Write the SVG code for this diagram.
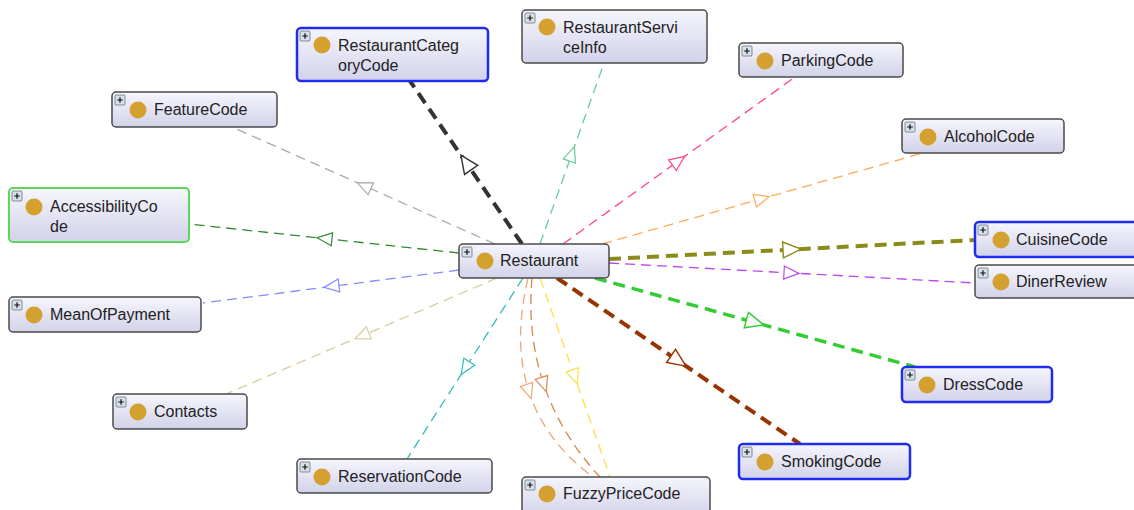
<svg xmlns="http://www.w3.org/2000/svg" width="1134" height="510" viewBox="0 0 1134 510">
  <style>
    .box { fill: url(#nodeFill); stroke: #4a4a4a; stroke-width: 1.5; }
    .box.sel { stroke: #1f2cf0; stroke-width: 2.5; }
    .box.hl { stroke: #5ad85a; stroke-width: 2; }
    .dot { fill: #d4a030; }
    .lbl { font-family: "Liberation Sans", Arial, sans-serif; font-size: 16px; fill: #222; }
    .plus rect { fill: #d8e0ea; stroke: #6a7480; stroke-width: 0.8; }
    .plus path { stroke: #111; stroke-width: 1.2; }
    .e { fill: none; stroke-width: 1.3; stroke-dasharray: 10 6; }
    .e.thick { stroke-width: 4; stroke-dasharray: 12 7; }
    .e.mid { stroke-width: 3.5; stroke-dasharray: 12 7; }
  </style>
  <defs>
    <linearGradient id="nodeFill" x1="0" y1="0" x2="0" y2="1">
      <stop offset="0" stop-color="#f6f6fd"/>
      <stop offset="1" stop-color="#d2d2ea"/>
    </linearGradient>
    <marker id="aBlack" viewBox="-22 -11 24 22" markerWidth="24" markerHeight="22" refX="-9" refY="0" orient="auto" markerUnits="userSpaceOnUse"><path d="M-18,-8 L0,0 L-18,8 Z" fill="#fff" stroke="#333" stroke-width="1.4"/></marker>
    <marker id="aOlive" viewBox="-22 -11 24 22" markerWidth="24" markerHeight="22" refX="-9" refY="0" orient="auto" markerUnits="userSpaceOnUse"><path d="M-18,-8 L0,0 L-18,8 Z" fill="#fff" stroke="#8b8b1a" stroke-width="1.4"/></marker>
    <marker id="aGreen" viewBox="-22 -11 24 22" markerWidth="24" markerHeight="22" refX="-9" refY="0" orient="auto" markerUnits="userSpaceOnUse"><path d="M-18,-8 L0,0 L-18,8 Z" fill="#fff" stroke="#33cc33" stroke-width="1.4"/></marker>
    <marker id="aBrown" viewBox="-22 -11 24 22" markerWidth="24" markerHeight="22" refX="-9" refY="0" orient="auto" markerUnits="userSpaceOnUse"><path d="M-18,-8 L0,0 L-18,8 Z" fill="#fff" stroke="#993300" stroke-width="1.4"/></marker>
    <marker id="aMint" viewBox="-17 -9 19 18" markerWidth="19" markerHeight="18" refX="-7" refY="0" orient="auto" markerUnits="userSpaceOnUse"><path d="M-15,-6.5 L0,0 L-15,6.5 Z" fill="#fff" stroke="#66cc99" stroke-width="1.2"/></marker>
    <marker id="aPink" viewBox="-17 -9 19 18" markerWidth="19" markerHeight="18" refX="-7" refY="0" orient="auto" markerUnits="userSpaceOnUse"><path d="M-15,-6.5 L0,0 L-15,6.5 Z" fill="#fff" stroke="#ff4488" stroke-width="1.2"/></marker>
    <marker id="aOrange" viewBox="-17 -9 19 18" markerWidth="19" markerHeight="18" refX="-7" refY="0" orient="auto" markerUnits="userSpaceOnUse"><path d="M-15,-6.5 L0,0 L-15,6.5 Z" fill="#fff" stroke="#ffaa55" stroke-width="1.2"/></marker>
    <marker id="aPurple" viewBox="-17 -9 19 18" markerWidth="19" markerHeight="18" refX="-7" refY="0" orient="auto" markerUnits="userSpaceOnUse"><path d="M-15,-6.5 L0,0 L-15,6.5 Z" fill="#fff" stroke="#bb44ee" stroke-width="1.2"/></marker>
    <marker id="aYellow" viewBox="-17 -9 19 18" markerWidth="19" markerHeight="18" refX="-7" refY="0" orient="auto" markerUnits="userSpaceOnUse"><path d="M-15,-6.5 L0,0 L-15,6.5 Z" fill="#fff" stroke="#ffdd44" stroke-width="1.2"/></marker>
    <marker id="aPeach" viewBox="-17 -9 19 18" markerWidth="19" markerHeight="18" refX="-7" refY="0" orient="auto" markerUnits="userSpaceOnUse"><path d="M-15,-6.5 L0,0 L-15,6.5 Z" fill="#fff" stroke="#eaa878" stroke-width="1.2"/></marker>
    <marker id="aRust" viewBox="-17 -9 19 18" markerWidth="19" markerHeight="18" refX="-7" refY="0" orient="auto" markerUnits="userSpaceOnUse"><path d="M-15,-6.5 L0,0 L-15,6.5 Z" fill="#fff" stroke="#d98650" stroke-width="1.2"/></marker>
    <marker id="aTeal" viewBox="-17 -9 19 18" markerWidth="19" markerHeight="18" refX="-7" refY="0" orient="auto" markerUnits="userSpaceOnUse"><path d="M-15,-6.5 L0,0 L-15,6.5 Z" fill="#fff" stroke="#33bbbb" stroke-width="1.2"/></marker>
    <marker id="aKhaki" viewBox="-17 -9 19 18" markerWidth="19" markerHeight="18" refX="-7" refY="0" orient="auto" markerUnits="userSpaceOnUse"><path d="M-15,-6.5 L0,0 L-15,6.5 Z" fill="#fff" stroke="#d6cd9c" stroke-width="1.2"/></marker>
    <marker id="aBlue" viewBox="-17 -9 19 18" markerWidth="19" markerHeight="18" refX="-7" refY="0" orient="auto" markerUnits="userSpaceOnUse"><path d="M-15,-6.5 L0,0 L-15,6.5 Z" fill="#fff" stroke="#8888ff" stroke-width="1.2"/></marker>
    <marker id="aDkGreen" viewBox="-17 -9 19 18" markerWidth="19" markerHeight="18" refX="-7" refY="0" orient="auto" markerUnits="userSpaceOnUse"><path d="M-15,-6.5 L0,0 L-15,6.5 Z" fill="#fff" stroke="#338833" stroke-width="1.2"/></marker>
    <marker id="aGray" viewBox="-17 -9 19 18" markerWidth="19" markerHeight="18" refX="-7" refY="0" orient="auto" markerUnits="userSpaceOnUse"><path d="M-15,-6.5 L0,0 L-15,6.5 Z" fill="#fff" stroke="#aaaaaa" stroke-width="1.2"/></marker>
    <g id="plusIcon" class="plus">
      <rect x="0" y="0" width="10" height="10" rx="1"/>
      <path d="M2.2,5 H7.8 M5,2.2 V7.8"/>
    </g>
  </defs>
  <rect width="1134" height="510" fill="#ffffff"/>

  <!-- connectors: Restaurant to each related class -->
  <g id="connectors">
    <path class="e" d="M495,244 L363.5,185.5 L232,127" stroke="#aaaaaa" marker-mid="url(#aGray)"/>
    <path class="e" d="M459,253 L324,238.5 L189,224" stroke="#338833" marker-mid="url(#aDkGreen)"/>
    <path class="e" d="M459,270 L331,286.5 L203,303" stroke="#8888ff" marker-mid="url(#aBlue)"/>
    <path class="e" d="M497,278 L361.5,336 L226,394" stroke="#d6cd9c" marker-mid="url(#aKhaki)"/>
    <path class="e" d="M523,278 L465,368.5 L407,459" stroke="#33bbbb" marker-mid="url(#aTeal)"/>
    <path class="e" d="M528,278 Q512.75,342.25 529,392 Q545.25,441.75 593,477" stroke="#eaa878" marker-mid="url(#aPeach)"/>
    <path class="e" d="M532,278 Q527,335.25 544,385 Q561,434.75 600,477" stroke="#d98650" marker-mid="url(#aRust)"/>
    <path class="e" d="M540,278 L575,377.5 L610,477" stroke="#ffdd44" marker-mid="url(#aYellow)"/>
    <path class="e" d="M540,244 L572,153.5 L604,63" stroke="#66cc99" marker-mid="url(#aMint)"/>
    <path class="e" d="M563,244 L679,160.5 L795,77" stroke="#ff4488" marker-mid="url(#aPink)"/>
    <path class="e" d="M602,244 L762.5,198.5 L923,153" stroke="#ffaa55" marker-mid="url(#aOrange)"/>
    <path class="e" d="M609,263 L792,273 L975,283" stroke="#bb44ee" marker-mid="url(#aPurple)"/>
    <path class="e thick" d="M522,244 L466,162.5 L410,81" stroke="#333333" marker-mid="url(#aBlack)"/>
    <path class="e thick" d="M609,259 L792,249.5 L975,240" stroke="#8b8b1a" marker-mid="url(#aOlive)"/>
    <path class="e mid" d="M595,278 L755,322.5 L915,367" stroke="#33cc33" marker-mid="url(#aGreen)"/>
    <path class="e thick" d="M557,278 L678.5,361 L800,444" stroke="#993300" marker-mid="url(#aBrown)"/>
  </g>

  <g id="RestaurantCategoryCode">
    <rect class="box sel" x="297" y="28" width="191" height="53" rx="4"/>
    <use href="#plusIcon" x="300" y="31"/>
    <circle class="dot" cx="322" cy="45" r="8.5"/>
    <text class="lbl" x="338" y="51">RestaurantCateg</text>
    <text class="lbl" x="338" y="71">oryCode</text>
  </g>
  <g id="RestaurantServiceInfo">
    <rect class="box" x="522" y="10" width="185" height="53" rx="4"/>
    <use href="#plusIcon" x="525" y="13"/>
    <circle class="dot" cx="547" cy="27" r="8.5"/>
    <text class="lbl" x="563" y="33">RestaurantServi</text>
    <text class="lbl" x="563" y="53">ceInfo</text>
  </g>
  <g id="ParkingCode">
    <rect class="box" x="739" y="43" width="164" height="34" rx="4"/>
    <use href="#plusIcon" x="742" y="46"/>
    <circle class="dot" cx="765" cy="61" r="8.5"/>
    <text class="lbl" x="781" y="66">ParkingCode</text>
  </g>
  <g id="FeatureCode">
    <rect class="box" x="112" y="92" width="165" height="35" rx="4"/>
    <use href="#plusIcon" x="115" y="95"/>
    <circle class="dot" cx="138" cy="110" r="8.5"/>
    <text class="lbl" x="154" y="115">FeatureCode</text>
  </g>
  <g id="AlcoholCode">
    <rect class="box" x="902" y="119" width="162" height="34" rx="4"/>
    <use href="#plusIcon" x="905" y="122"/>
    <circle class="dot" cx="928" cy="137" r="8.5"/>
    <text class="lbl" x="944" y="142">AlcoholCode</text>
  </g>
  <g id="AccessibilityCode">
    <rect class="box hl" x="9" y="188" width="180" height="54" rx="4"/>
    <use href="#plusIcon" x="12" y="191"/>
    <circle class="dot" cx="34" cy="207" r="8.5"/>
    <text class="lbl" x="50" y="212">AccessibilityCo</text>
    <text class="lbl" x="50" y="232">de</text>
  </g>
  <g id="Restaurant">
    <rect class="box" x="459" y="244" width="150" height="34" rx="4"/>
    <use href="#plusIcon" x="462" y="247"/>
    <circle class="dot" cx="485" cy="261" r="8.5"/>
    <text class="lbl" x="500" y="266">Restaurant</text>
  </g>
  <g id="CuisineCode">
    <rect class="box sel" x="975" y="222" width="170" height="35" rx="4"/>
    <use href="#plusIcon" x="978" y="225"/>
    <circle class="dot" cx="1001" cy="240" r="8.5"/>
    <text class="lbl" x="1016" y="245">CuisineCode</text>
  </g>
  <g id="DinerReview">
    <rect class="box" x="975" y="265" width="170" height="33" rx="4"/>
    <use href="#plusIcon" x="978" y="268"/>
    <circle class="dot" cx="1001" cy="282" r="8.5"/>
    <text class="lbl" x="1016" y="287">DinerReview</text>
  </g>
  <g id="MeanOfPayment">
    <rect class="box" x="9" y="297" width="192" height="35" rx="4"/>
    <use href="#plusIcon" x="12" y="300"/>
    <circle class="dot" cx="34" cy="315" r="8.5"/>
    <text class="lbl" x="50" y="320">MeanOfPayment</text>
  </g>
  <g id="DressCode">
    <rect class="box sel" x="902" y="367" width="150" height="35" rx="4"/>
    <use href="#plusIcon" x="905" y="370"/>
    <circle class="dot" cx="927" cy="385" r="8.5"/>
    <text class="lbl" x="943" y="390">DressCode</text>
  </g>
  <g id="Contacts">
    <rect class="box" x="113" y="394" width="134" height="35" rx="4"/>
    <use href="#plusIcon" x="116" y="397"/>
    <circle class="dot" cx="138" cy="412" r="8.5"/>
    <text class="lbl" x="154" y="417">Contacts</text>
  </g>
  <g id="SmokingCode">
    <rect class="box sel" x="739" y="444" width="171" height="35" rx="4"/>
    <use href="#plusIcon" x="742" y="447"/>
    <circle class="dot" cx="765" cy="462" r="8.5"/>
    <text class="lbl" x="781" y="467">SmokingCode</text>
  </g>
  <g id="ReservationCode">
    <rect class="box" x="297" y="459" width="195" height="34" rx="4"/>
    <use href="#plusIcon" x="300" y="462"/>
    <circle class="dot" cx="322" cy="477" r="8.5"/>
    <text class="lbl" x="338" y="482">ReservationCode</text>
  </g>
  <g id="FuzzyPriceCode">
    <rect class="box" x="522" y="477" width="188" height="40" rx="4"/>
    <use href="#plusIcon" x="525" y="480"/>
    <circle class="dot" cx="547" cy="494" r="8.5"/>
    <text class="lbl" x="563" y="499">FuzzyPriceCode</text>
  </g>
</svg>
